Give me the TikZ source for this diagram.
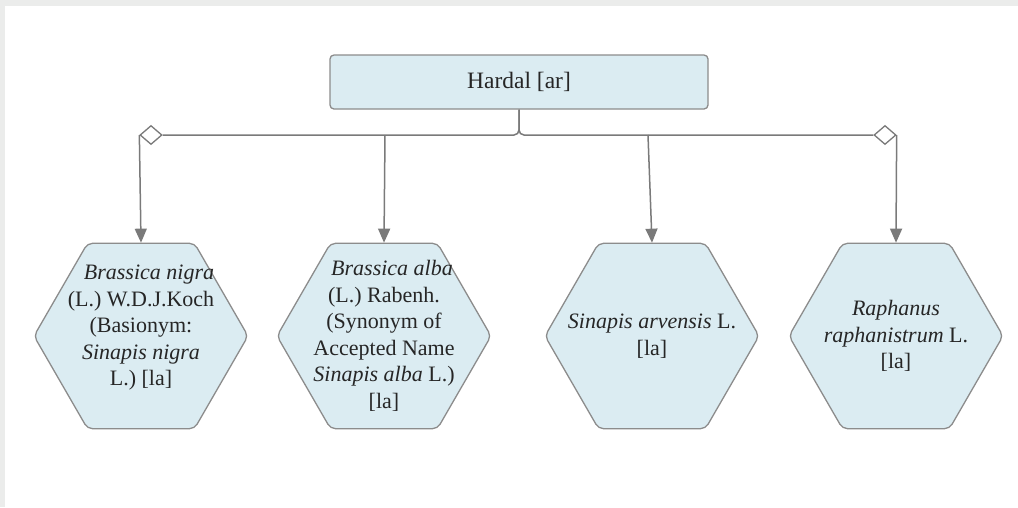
\documentclass[tikz,border=0pt]{standalone}
\usepackage{fontspec}
\setmainfont{Liberation Serif}
\usetikzlibrary{arrows.meta,shapes.geometric}
\definecolor{hexfill}{HTML}{DBECF2}
\definecolor{edgegrey}{HTML}{8C8C8C}
\definecolor{linegrey}{HTML}{7A7A7A}
\definecolor{pagegrey}{HTML}{EBECEB}
\definecolor{textgrey}{HTML}{262626}
\begin{document}
\begin{tikzpicture}[
        x=1pt, y=-1pt,
        >={Triangle[length=14pt,width=12pt]},
        rootbox/.style={rectangle, draw=edgegrey, fill=hexfill, rounded corners=4pt, line width=1.3pt, minimum width=378pt, minimum height=54pt, font=\fontsize{23.5}{28}\selectfont, text=textgrey},
        hexa/.style={regular polygon, regular polygon sides=6, draw=edgegrey, fill=hexfill, line width=1.3pt, rounded corners=5pt, minimum size=214pt, inner sep=0pt},
        hexatext/.style={align=center, font=\fontsize{22}{26.5}\selectfont, text=textgrey},
        link/.style={draw=linegrey, line width=1.5pt},
        diam/.style={diamond, draw=linegrey, fill=white, line width=1.3pt, minimum width=22pt, minimum height=19pt, inner sep=0pt}
    ]
        \useasboundingbox (0,0) rectangle (1018,507);
        % Page
        \fill[pagegrey] (0,0) rectangle (1018,507);
        \fill[white] (5,6) rectangle (1018,507);

        % Root
        \node[rootbox] (root) at (519,82) {Hardal [ar]};

        % Hexagons
        \node[hexa] (n1) at (141,336) {};
        \node[hexa] (n2) at (384,336) {};
        \node[hexa] (n3) at (652,336) {};
        \node[hexa] (n4) at (896,336) {};

        \node[hexatext] (t1) at (141,328) {\hspace*{16pt}\textit{Brassica nigra}\\(L.) W.D.J.Koch\\(Basionym:\\\textit{Sinapis nigra}\\L.) [la]};
        \node[hexatext] (t2) at (n2) {\hspace*{16pt}\textit{Brassica alba}\\(L.) Rabenh.\\(Synonym of\\Accepted Name\\\textit{Sinapis alba} L.)\\{[la]}};
        \node[hexatext] (t3) at (n3) {\textit{Sinapis arvensis} L.\\{[la]}};
        \node[hexatext] (t4) at (n4) {\textit{Raphanus}\\\textit{raphanistrum} L.\\{[la]}};

        % Connectors
        \node[diam] (d1) at (151,135) {};
        \node[diam] (d4) at (885,135) {};
        \coordinate (s2) at (385,135);
        \coordinate (s3) at (648,135);

        \draw[link, rounded corners=5pt] (root.south) |- (d1.east);
        \draw[link, rounded corners=5pt] (root.south) |- (d4.west);

        \draw[link, ->] (d1.west) -- (n1.north);
        \draw[link, ->] (s2) -- (n2.north);
        \draw[link, ->] (s3) -- (n3.north);
        \draw[link, ->] (d4.east) -- (n4.north);
    \end{tikzpicture}
\end{document}
